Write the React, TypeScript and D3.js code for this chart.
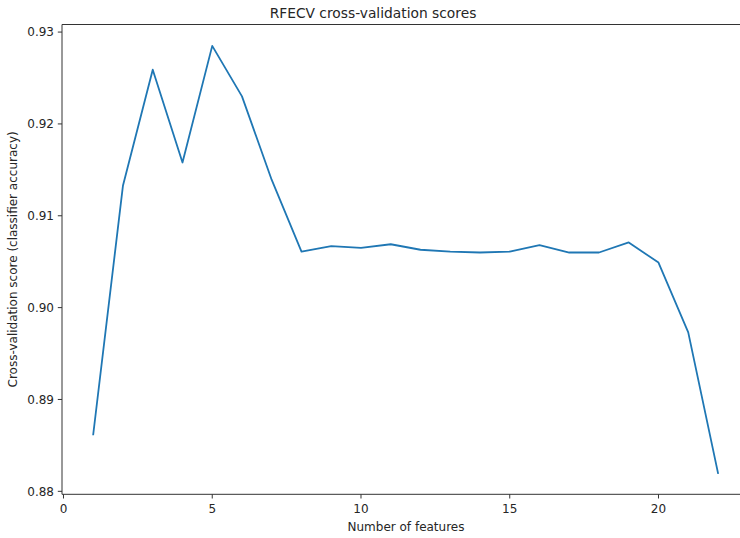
import React from "react";
import * as d3 from "d3";

// Number of features selected at each RFECV step
const nFeatures: number[] = [
  1, 2, 3, 4, 5, 6, 7, 8, 9, 10, 11, 12, 13, 14, 15, 16, 17, 18, 19, 20, 21, 22,
];

// Mean cross-validation accuracy for each feature count
const cvScores: number[] = [
  0.8862, 0.9133, 0.9259, 0.9158, 0.9285, 0.923, 0.9139, 0.9061, 0.9067, 0.9065,
  0.9069, 0.9063, 0.9061, 0.906, 0.9061, 0.9068, 0.906, 0.906, 0.9071, 0.9049,
  0.8973, 0.882,
];

const xTicks: number[] = [0, 5, 10, 15, 20];
const yTicks: number[] = [0.88, 0.89, 0.9, 0.91, 0.92, 0.93];

const W = 740;
const H = 538;
const left = 62;
const top = 24.5;
const bottom = 494.3;
const pxPerFeature = 29.75;

export default function App() {
  // matplotlib-style 5% margins around the data
  const [x0, x1] = d3.extent(nFeatures) as [number, number];
  const xPad = (x1 - x0) * 0.05;
  const xDomain: [number, number] = [x0 - xPad, x1 + xPad];
  const right = left + (xDomain[1] - xDomain[0]) * pxPerFeature;

  const [y0, y1] = d3.extent(cvScores) as [number, number];
  const yPad = (y1 - y0) * 0.05;

  const x = d3.scaleLinear().domain(xDomain).range([left, right]);
  const y = d3.scaleLinear().domain([y0 - yPad, y1 + yPad]).range([bottom, top]);

  const line = d3
    .line<number>()
    .x((_, i) => x(nFeatures[i]))
    .y((d) => y(d));

  const font = "'DejaVu Sans', sans-serif";
  const textColor = "#262626";
  const spine = "#333";

  return (
    <svg
      width={W}
      height={H}
      style={{ position: "absolute", left: 0, top: 0, background: "#fff", overflow: "hidden" }}
    >
      <path
        d={line(cvScores) ?? ""}
        fill="none"
        stroke="#1f77b4"
        strokeWidth={1.8}
        strokeLinejoin="round"
        strokeLinecap="square"
      />

      {/* spines (the right one falls past the drawing edge) */}
      <line x1={left} x2={left} y1={top} y2={bottom} stroke={spine} strokeWidth={1} />
      <line x1={left} x2={right} y1={top} y2={top} stroke={spine} strokeWidth={1} />
      <line x1={left} x2={right} y1={bottom} y2={bottom} stroke={spine} strokeWidth={1} />
      <line x1={right} x2={right} y1={top} y2={bottom} stroke={spine} strokeWidth={1} />

      {/* x axis ticks */}
      {xTicks.map((t) => (
        <g key={`x${t}`}>
          <line x1={x(t)} x2={x(t)} y1={bottom} y2={bottom + 4.2} stroke={spine} strokeWidth={1} />
          <text
            x={x(t)}
            y={513}
            textAnchor="middle"
            fontFamily={font}
            fontSize={12}
            fill={textColor}
          >
            {t}
          </text>
        </g>
      ))}

      {/* y axis ticks */}
      {yTicks.map((t) => (
        <g key={`y${t}`}>
          <line x1={left - 4.2} x2={left} y1={y(t)} y2={y(t)} stroke={spine} strokeWidth={1} />
          <text
            x={54}
            y={y(t)}
            dy="0.36em"
            textAnchor="end"
            fontFamily={font}
            fontSize={12}
            fill={textColor}
          >
            {t.toFixed(2)}
          </text>
        </g>
      ))}

      <text
        x={373}
        y={18}
        textAnchor="middle"
        fontFamily={font}
        fontSize={13.8}
        fill={textColor}
      >
        RFECV cross-validation scores
      </text>

      <text
        x={406}
        y={531}
        textAnchor="middle"
        fontFamily={font}
        fontSize={12}
        fill={textColor}
      >
        Number of features
      </text>

      <text
        transform={`translate(16.5, ${(top + bottom) / 2}) rotate(-90)`}
        textAnchor="middle"
        fontFamily={font}
        fontSize={12}
        fill={textColor}
      >
        Cross-validation score (classifier accuracy)
      </text>
    </svg>
  );
}
